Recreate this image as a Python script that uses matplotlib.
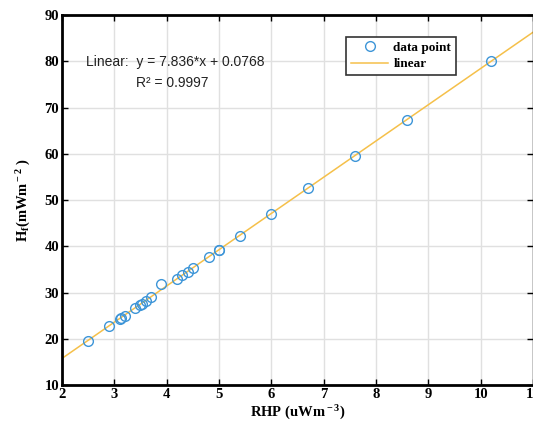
import numpy as np
import matplotlib.pyplot as plt

# heat production vs heat flow
rhp = [2.5, 2.9, 3.1, 3.12, 3.2, 3.4, 3.5, 3.52, 3.6, 3.7, 3.9,
       4.2, 4.3, 4.4, 4.5, 4.8, 5.0, 5.0, 5.4, 6.0, 6.7, 7.6, 8.6, 10.2]
hf = [19.6, 22.7, 24.2, 24.4, 25.0, 26.7, 27.3, 27.6, 28.2, 29.0, 31.9,
      32.9, 33.7, 34.5, 35.3, 37.6, 39.1, 39.3, 42.3, 47.0, 52.5, 59.6, 67.4, 80.1]
slope = 7.836
intercept = 0.0768
r2 = 0.9997

serif = ['Liberation Serif', 'DejaVu Serif']
sans = ['Liberation Sans', 'DejaVu Sans']

plt.rcParams['mathtext.fontset'] = 'custom'
plt.rcParams['mathtext.rm'] = 'Liberation Serif:bold'
plt.rcParams['mathtext.it'] = 'Liberation Serif:bold'
plt.rcParams['mathtext.bf'] = 'Liberation Serif:bold'

fig = plt.figure(figsize=(5.33, 4.23), dpi=100)
ax = fig.add_axes([0.1163, 0.0898, 0.8837, 0.8747])

x_fit = np.array([2, 11])
ax.plot(x_fit, slope * x_fit + intercept, color='#f5c04a', lw=1.1, label='linear', zorder=2)
ax.plot(rhp, hf, 'o', mfc='none', mec='#3d95d8', mew=1.0, ms=7, label='data point', zorder=3)

ax.set_xlim(2, 11)
ax.set_ylim(10, 90)
ax.set_xticks(range(2, 12))
ax.set_yticks(range(10, 91, 10))
ax.grid(True, color='#e0e0e0', lw=1.0)
ax.set_axisbelow(True)
ax.tick_params(direction='in', top=True, right=True, length=4, width=1, pad=2)
for lab in ax.get_xticklabels() + ax.get_yticklabels():
    lab.set_family(serif)
    lab.set_fontweight('bold')
    lab.set_fontsize(10.5)
for side in ['left', 'bottom', 'top']:
    ax.spines[side].set_linewidth(2)
ax.spines['right'].set_linewidth(1)

ax.set_xlabel(r'RHP (uWm$^{\rm -3}$)', family=serif, fontweight='bold', fontsize=10.5, labelpad=2)
ax.set_ylabel(r'H$_{\rm f}$(mWm$^{\rm -2}$ )', family=serif, fontweight='bold', fontsize=10.5, labelpad=8)

ax.text(2.46, 79.8, 'Linear:  y = 7.836*x + 0.0768', family=sans, fontsize=10, va='center', ha='left', color='#222222')
ax.text(4.1, 75.3, 'R² = %.4f' % r2, family=sans, fontsize=10, va='center', ha='center', color='#222222')

handles, labels = ax.get_legend_handles_labels()
leg = ax.legend(handles[::-1], labels[::-1], loc='upper left', bbox_to_anchor=(0.59, 0.958),
                prop={'family': serif, 'weight': 'bold', 'size': 9.5},
                fancybox=False, edgecolor='#333333', framealpha=1,
                handlelength=2.8, borderpad=0.35, labelspacing=0.3, handletextpad=0.4)
leg.get_frame().set_linewidth(1.2)

fig.savefig('out.png', dpi=100)
